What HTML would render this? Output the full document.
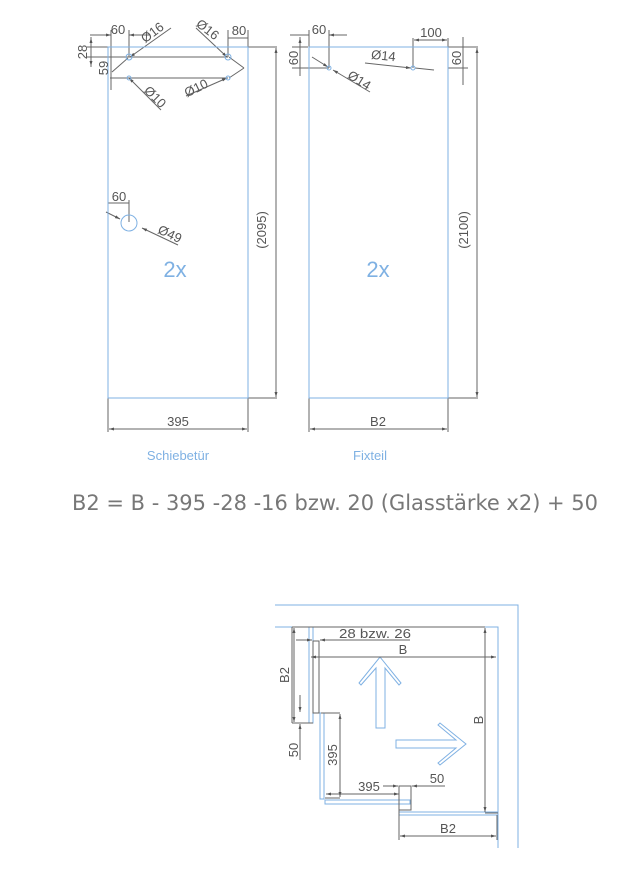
<!DOCTYPE html>
<html><head><meta charset="utf-8"><style>
html,body{margin:0;padding:0;background:#fff;}
svg{display:block;}
text{font-family:"Liberation Sans","DejaVu Sans",sans-serif;fill:#555;}
</style></head><body>
<svg width="618" height="874" viewBox="0 0 618 874" xmlns="http://www.w3.org/2000/svg">
<defs>
<marker id="a" viewBox="0 0 10 10" refX="10" refY="5" markerWidth="7" markerHeight="5" orient="auto-start-reverse"><path d="M0,2 L10,5 L0,8 z" fill="#555"/></marker>
</defs>
<g stroke="#666" stroke-width="1" fill="none">
<line x1="87" y1="47" x2="277" y2="47"/>
<line x1="87" y1="57" x2="228" y2="57"/>
<line x1="110" y1="78" x2="228" y2="78"/>
<line x1="91" y1="37" x2="91" y2="67" />
<line x1="91" y1="38" x2="91" y2="47" marker-start="url(#a)"/>
<line x1="91" y1="66" x2="91" y2="57" marker-start="url(#a)"/>
<line x1="111" y1="30" x2="111" y2="90"/>
<line x1="129" y1="30" x2="129" y2="57"/>
<line x1="90" y1="35" x2="111" y2="35" marker-end="url(#a)"/>
<line x1="150" y1="35" x2="129" y2="35" marker-end="url(#a)"/>
<line x1="111" y1="58" x2="111" y2="76"/>
<line x1="228" y1="30" x2="228" y2="57"/>
<line x1="248" y1="30" x2="248" y2="47"/>
<line x1="228" y1="38" x2="248" y2="38"/>
<line x1="171" y1="28" x2="130" y2="57" marker-end="url(#a)"/>
<line x1="196" y1="28" x2="227" y2="57" marker-end="url(#a)"/>
<line x1="244" y1="68" x2="229" y2="57" />
<line x1="244" y1="68" x2="229" y2="78" />
<line x1="112" y1="72" x2="128" y2="58"/>
<line x1="129" y1="78" x2="161" y2="110" marker-start="url(#a)"/>
<line x1="186" y1="96" x2="227" y2="78" marker-end="url(#a)"/>
<line x1="276" y1="48" x2="276" y2="397" marker-start="url(#a)" marker-end="url(#a)"/>
<line x1="248" y1="398" x2="277" y2="398"/>
<line x1="108" y1="398" x2="108" y2="432"/>
<line x1="248" y1="398" x2="248" y2="432"/>
<line x1="109" y1="429" x2="247" y2="429" marker-start="url(#a)" marker-end="url(#a)"/>
<line x1="108" y1="200" x2="108" y2="222"/>
<line x1="129" y1="200" x2="129" y2="222"/>
<line x1="108" y1="203" x2="129" y2="203"/>
<line x1="106" y1="212" x2="120" y2="219" marker-end="url(#a)"/>
<line x1="142" y1="228" x2="178" y2="245" marker-start="url(#a)"/>
<line x1="292" y1="47" x2="308" y2="47"/>
<line x1="300" y1="37" x2="300" y2="76"/>
<line x1="300" y1="38" x2="300" y2="47" marker-start="url(#a)"/>
<line x1="292" y1="68" x2="329" y2="68"/>
<line x1="309" y1="30" x2="309" y2="47"/>
<line x1="329" y1="30" x2="329" y2="68"/>
<line x1="290" y1="35" x2="309" y2="35"/>
<line x1="347" y1="35" x2="329" y2="35" marker-end="url(#a)"/>
<line x1="312" y1="57" x2="328" y2="67" marker-end="url(#a)"/>
<line x1="333" y1="70" x2="370" y2="92" marker-start="url(#a)"/>
<line x1="365" y1="63" x2="411" y2="68" marker-end="url(#a)"/>
<line x1="415" y1="68" x2="434" y2="70"/>
<line x1="413" y1="38" x2="413" y2="68"/>
<line x1="448" y1="38" x2="448" y2="47"/>
<line x1="414" y1="40" x2="447" y2="40" marker-start="url(#a)" marker-end="url(#a)"/>
<line x1="448" y1="47" x2="478" y2="47"/>
<line x1="448" y1="68" x2="468" y2="68"/>
<line x1="463" y1="37" x2="463" y2="85"/>
<line x1="477" y1="48" x2="477" y2="397" marker-start="url(#a)" marker-end="url(#a)"/>
<line x1="448" y1="398" x2="478" y2="398"/>
<line x1="309" y1="398" x2="309" y2="432"/>
<line x1="448" y1="398" x2="448" y2="432"/>
<line x1="310" y1="429" x2="447" y2="429" marker-start="url(#a)" marker-end="url(#a)"/>
</g>
<g stroke="#7fb1e3" stroke-width="1" fill="none">
<rect x="108" y="47" width="140" height="351"/>
<rect x="309" y="47" width="139" height="351"/>
<circle cx="129" cy="57" r="3"/><circle cx="228" cy="57" r="3"/>
<circle cx="129" cy="78" r="2"/><circle cx="228" cy="78" r="2"/>
<circle cx="129" cy="223" r="8"/>
<circle cx="329" cy="68" r="2"/><circle cx="413" cy="68" r="2"/>
</g>
<g font-size="13">
<text x="118" y="34" text-anchor="middle">60</text>
<text x="87" y="52" transform="rotate(-90 87 52)" text-anchor="middle">28</text>
<text x="108" y="68" transform="rotate(-90 108 68)" text-anchor="middle">59</text>
<text x="155" y="36" transform="rotate(-37 155 36)" text-anchor="middle">Ø16</text>
<text x="205" y="33" transform="rotate(38 205 33)" text-anchor="middle">Ø16</text>
<text x="239" y="35" text-anchor="middle">80</text>
<text x="152" y="100" transform="rotate(45 152 100)" text-anchor="middle">Ø10</text>
<text x="198" y="92" transform="rotate(-26 198 92)" text-anchor="middle">Ø10</text>
<text x="119" y="201" text-anchor="middle">60</text>
<text x="168" y="238" transform="rotate(25 168 238)" text-anchor="middle">Ø49</text>
<text x="266" y="230" transform="rotate(-90 266 230)" text-anchor="middle">(2095)</text>
<text x="178" y="426" text-anchor="middle">395</text>
<text x="319" y="34" text-anchor="middle">60</text>
<text x="298" y="58" transform="rotate(-90 298 58)" text-anchor="middle">60</text>
<text x="357" y="84" transform="rotate(32 357 84)" text-anchor="middle">Ø14</text>
<text x="383" y="60" transform="rotate(6 383 60)" text-anchor="middle">Ø14</text>
<text x="431" y="37" text-anchor="middle">100</text>
<text x="461" y="58" transform="rotate(-90 461 58)" text-anchor="middle">60</text>
<text x="468" y="230" transform="rotate(-90 468 230)" text-anchor="middle">(2100)</text>
<text x="378" y="426" text-anchor="middle">B2</text>
</g>
<text x="175" y="277" font-size="22" text-anchor="middle" style="fill:#7fb1e3">2x</text>
<text x="378" y="277" font-size="22" text-anchor="middle" style="fill:#7fb1e3">2x</text>
<text x="178" y="460" font-size="13" text-anchor="middle" style="fill:#7fb1e3">Schiebetür</text>
<text x="370" y="460" font-size="13" text-anchor="middle" style="fill:#7fb1e3">Fixteil</text>
<text x="72" y="510" font-size="21" textLength="526" lengthAdjust="spacingAndGlyphs" style="fill:#777;font-family:'DejaVu Sans',sans-serif">B2 = B - 395 -28 -16 bzw. 20 (Glasstärke x2) + 50</text>
<g stroke="#7fb1e3" stroke-width="1" fill="none">
<polyline points="275,605 518,605 518,848"/>
<polyline points="275,627 498,627 498,848"/>
<rect x="309" y="627" width="4" height="96"/>
<rect x="320" y="713" width="4" height="86"/>
<rect x="325" y="800" width="85" height="4"/>
<rect x="399" y="812" width="99" height="3"/>
<path d="M376,728 L376,668 L361,685 L359,683 L380,657 L401,683 L399,685 L385,668 L385,728 Z"/>
<path d="M396,740 L456,740 L438,725 L440,723 L466,744 L440,765 L438,763 L456,748 L396,748 Z"/>
</g>
<g stroke="#666" stroke-width="1" fill="none">
<line x1="292" y1="627" x2="485" y2="627"/>
<line x1="292" y1="627" x2="292" y2="723"/>
<line x1="292" y1="723" x2="313" y2="723"/>
<rect x="313" y="641" width="6" height="72"/>
<line x1="294" y1="628" x2="294" y2="722" marker-start="url(#a)" marker-end="url(#a)"/>
<line x1="296" y1="640" x2="312" y2="640" marker-end="url(#a)"/>
<line x1="410" y1="640" x2="320" y2="640" marker-end="url(#a)"/>
<line x1="311" y1="657" x2="496" y2="657" marker-start="url(#a)" marker-end="url(#a)"/>
<line x1="485" y1="628" x2="485" y2="812" marker-start="url(#a)" marker-end="url(#a)"/>
<line x1="485" y1="813" x2="498" y2="813"/>
<line x1="300" y1="695" x2="300" y2="712" marker-end="url(#a)"/>
<line x1="300" y1="760" x2="300" y2="724" marker-end="url(#a)"/>
<line x1="321" y1="713" x2="340" y2="713"/>
<line x1="340" y1="714" x2="340" y2="797" marker-start="url(#a)" marker-end="url(#a)"/>
<line x1="325" y1="798" x2="340" y2="798"/>
<line x1="326" y1="794" x2="399" y2="794" marker-start="url(#a)" marker-end="url(#a)"/>
<line x1="383" y1="786" x2="398" y2="786" marker-end="url(#a)"/>
<rect x="399" y="786" width="12" height="24"/>
<line x1="445" y1="786" x2="412" y2="786" marker-end="url(#a)"/>
<line x1="399" y1="810" x2="399" y2="840"/>
<line x1="497" y1="815" x2="497" y2="840"/>
<line x1="400" y1="836" x2="496" y2="836" marker-start="url(#a)" marker-end="url(#a)"/>
</g>
<g font-size="13">
<text x="339" y="638" textLength="72" lengthAdjust="spacingAndGlyphs">28 bzw. 26</text>
<text x="403" y="654" text-anchor="middle">B</text>
<text x="289" y="675" transform="rotate(-90 289 675)" text-anchor="middle">B2</text>
<text x="298" y="750" transform="rotate(-90 298 750)" text-anchor="middle">50</text>
<text x="337" y="755" transform="rotate(-90 337 755)" text-anchor="middle">395</text>
<text x="483" y="720" transform="rotate(-90 483 720)" text-anchor="middle">B</text>
<text x="369" y="791" text-anchor="middle">395</text>
<text x="437" y="783" text-anchor="middle">50</text>
<text x="448" y="833" text-anchor="middle">B2</text>
</g>
</svg>
</body></html>
